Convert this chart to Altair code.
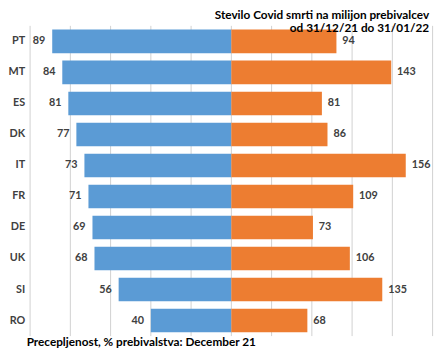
import altair as alt
import pandas as pd

countries = ["PT", "MT", "ES", "DK", "IT", "FR", "DE", "UK", "SI", "RO"]
vaccinated = [89, 84, 81, 77, 73, 71, 69, 68, 56, 40]
deaths = [94, 143, 81, 86, 156, 109, 73, 106, 135, 68]
title_lines = ["Stevilo Covid smrti na milijon prebivalcev", "od 31/12/21 do 31/01/22"]
footer = "Precepljenost, % prebivalstva: December 21"

# gridline positions on the shared (percent-of-half-width) axis
grid_ticks = [-100, -80, -60, -40, -20, 0, 20, 40, 60, 80, 100]
left_max = 100   # vaccination axis maximum (%)
right_max = 180  # deaths axis maximum

BLUE = "#5B9BD5"
ORANGE = "#ED7D31"
LABEL = "#404040"
GRID = "#D0D0D0"
FONT = "Lato"

W = 410
H = 316

df = pd.DataFrame({"country": countries, "vacc": vaccinated, "deaths": deaths})

xscale = alt.Scale(domain=[-100, 100], nice=False, zero=True, range=[0.5, W + 0.5])

y_enc = alt.Y(
    "country:N",
    sort=countries,
    scale=alt.Scale(paddingInner=0.24, paddingOuter=0.12),
    axis=alt.Axis(
        title=None, ticks=False, domain=False, grid=False,
        labelFontWeight="bold", labelColor=LABEL, labelFontSize=11,
        labelPadding=5, labelFont=FONT,
    ),
)

base = alt.Chart(df).transform_calculate(
    lx=f"-datum.vacc * 100 / {left_max}",
    rx=f"datum.deaths * 100 / {right_max}",
)

grid = alt.Chart(pd.DataFrame({"v": grid_ticks})).mark_rule(color=GRID, strokeWidth=1).encode(
    x=alt.X("v:Q", scale=xscale, axis=None),
    y=alt.value(0), y2=alt.value(H),
)

left_bar = base.mark_bar(color=BLUE).encode(
    x=alt.X("lx:Q", scale=xscale, axis=None),
    x2=alt.datum(0),
    y=y_enc,
)
right_bar = base.mark_bar(color=ORANGE).encode(
    x=alt.X("rx:Q", scale=xscale, axis=None),
    x2=alt.datum(0),
    y=y_enc,
)
left_txt = base.mark_text(align="right", dx=-7, fontWeight="bold", fontSize=11,
                          color=LABEL, font=FONT).encode(
    x=alt.X("lx:Q", scale=xscale, axis=None),
    y=y_enc,
    text="vacc:Q",
)
right_txt = base.mark_text(align="left", dx=6, fontWeight="bold", fontSize=11,
                           color=LABEL, font=FONT).encode(
    x=alt.X("rx:Q", scale=xscale, axis=None),
    y=y_enc,
    text="deaths:Q",
)

t1 = alt.Chart(pd.DataFrame({"t": [title_lines[0]]})).mark_text(
    align="right", baseline="alphabetic", fontWeight="bold", fontSize=12,
    color="#000000", font=FONT).encode(text="t:N", x=alt.value(407), y=alt.value(-7))
t2 = alt.Chart(pd.DataFrame({"t": [title_lines[1]]})).mark_text(
    align="right", baseline="alphabetic", fontWeight="bold", fontSize=12,
    color="#000000", font=FONT).encode(text="t:N", x=alt.value(407), y=alt.value(6))
ft = alt.Chart(pd.DataFrame({"t": [footer]})).mark_text(
    align="left", baseline="alphabetic", fontWeight="bold", fontSize=12,
    color="#000000", font=FONT).encode(text="t:N", x=alt.value(-3), y=alt.value(326))

chart = alt.layer(grid, left_bar, right_bar, left_txt, right_txt, t1, t2, ft).properties(
    width=W, height=H,
    autosize=alt.AutoSizeParams(type="none"),
    padding={"left": 22, "top": 15, "right": 5, "bottom": 13},
    background="white",
).configure_view(stroke=None)

chart.save("out.html", embed_options={"renderer": "svg", "actions": False})
